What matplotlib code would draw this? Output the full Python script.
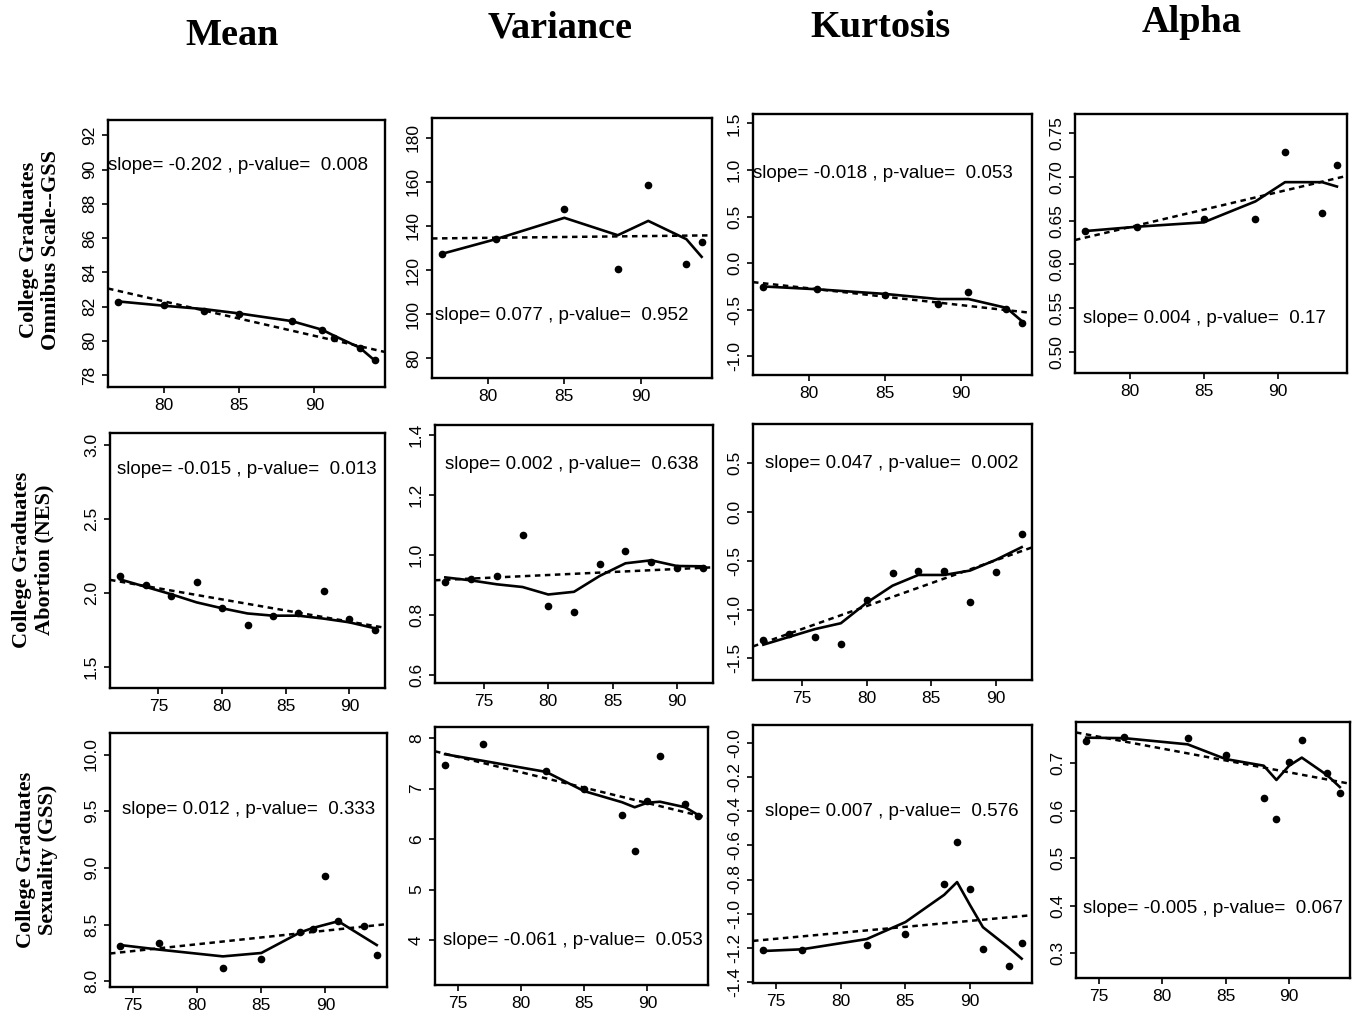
import numpy as np
import matplotlib
matplotlib.use("Agg")
import matplotlib.pyplot as plt

plt.rcParams['font.family'] = ['Liberation Sans', 'DejaVu Sans']
plt.rcParams['axes.unicode_minus'] = False

# ---- GSS omnibus scale (college graduates) ----
omni_mean_years = [77, 80, 82.7, 85, 88.5, 90.5, 91.3, 93, 94]
omni_mean = [82.25, 82.1, 81.75, 81.55, 81.15, 80.65, 80.15, 79.6, 78.85]
omni_mean_smooth = [82.3, 82.05, 81.85, 81.6, 81.15, 80.65, 80.3, 79.6, 78.85]

omni_years = [77, 80.5, 85, 88.5, 90.5, 93, 94]
omni_var = [127.4, 134.3, 147.5, 120.5, 158.8, 122.7, 132.7]
omni_var_smooth = [127.4, 134.0, 143.7, 135.8, 142.3, 134.0, 126.0]
omni_kurt = [-0.26, -0.28, -0.34, -0.44, -0.31, -0.49, -0.64]
omni_kurt_smooth = [-0.25, -0.28, -0.33, -0.385, -0.385, -0.48, -0.62]
omni_alpha = [0.638, 0.643, 0.652, 0.652, 0.728, 0.659, 0.714]
omni_alpha_smooth = [0.638, 0.643, 0.648, 0.672, 0.694, 0.694, 0.689]

omni_slope = [-0.202, 0.077, -0.018, 0.004]
omni_pvalue = [0.008, 0.952, 0.053, 0.17]
omni_fit_at_85 = [81.3, 135.0, -0.36, 0.6625]

# ---- NES abortion (college graduates) ----
nes_years = [72, 74, 76, 78, 80, 82, 84, 86, 88, 90, 92]
nes_mean = [2.11, 2.05, 1.98, 2.075, 1.90, 1.78, 1.84, 1.86, 2.01, 1.82, 1.745]
nes_mean_smooth = [2.09, 2.04, 1.99, 1.935, 1.895, 1.86, 1.845, 1.845, 1.825, 1.80, 1.76]
nes_var = [0.908, 0.918, 0.93, 1.067, 0.831, 0.811, 0.97, 1.013, 0.975, 0.957, 0.957]
nes_var_smooth = [0.925, 0.915, 0.902, 0.893, 0.868, 0.877, 0.93, 0.972, 0.982, 0.963, 0.962]
nes_kurt = [-1.31, -1.25, -1.28, -1.35, -0.90, -0.62, -0.60, -0.60, -0.92, -0.61, -0.23]
nes_kurt_smooth = [-1.36, -1.28, -1.20, -1.14, -0.93, -0.755, -0.645, -0.645, -0.60, -0.49, -0.36]

nes_slope = [-0.015, 0.002, 0.047]
nes_pvalue = [0.013, 0.638, 0.002]
nes_fit_at_82 = [1.925, 0.937, -0.87]

# ---- GSS sexuality (college graduates) ----
sex_years = [74, 77, 82, 85, 88, 89, 90, 91, 93, 94]
sex_mean = [8.31, 8.34, 8.12, 8.20, 8.435, 8.46, 8.93, 8.535, 8.49, 8.235]
sex_mean_smooth = [8.32, 8.28, 8.22, 8.25, 8.43, 8.47, 8.50, 8.53, 8.39, 8.32]
sex_var = [7.47, 7.89, 7.34, 7.0, 6.48, 5.77, 6.76, 7.65, 6.69, 6.46]
sex_var_smooth = [7.68, 7.55, 7.33, 6.95, 6.73, 6.63, 6.72, 6.74, 6.63, 6.48]
sex_kurt = [-1.214, -1.214, -1.185, -1.122, -0.828, -0.582, -0.858, -1.206, -1.306, -1.175]
sex_kurt_smooth = [-1.22, -1.21, -1.15, -1.05, -0.89, -0.815, -0.95, -1.08, -1.20, -1.265]
sex_alpha = [0.748, 0.756, 0.753, 0.718, 0.628, 0.582, 0.703, 0.749, 0.679, 0.637]
sex_alpha_smooth = [0.754, 0.753, 0.740, 0.709, 0.695, 0.665, 0.695, 0.712, 0.675, 0.650]

sex_slope = [0.012, -0.061, 0.007, -0.005]
sex_pvalue = [0.333, 0.053, 0.576, 0.067]
sex_fit_at_84 = [8.375, 7.08, -1.085, 0.711]

col_titles = ["Mean", "Variance", "Kurtosis", "Alpha"]
row_titles = ["College Graduates\nOmnibus Scale--GSS",
              "College Graduates\nAbortion (NES)",
              "College Graduates\nSexuality (GSS)"]

W, H = 1354, 1017
fig = plt.figure(figsize=(W / 100, H / 100), dpi=100)


def px_axes(l, t, r, b):
    return fig.add_axes([l / W, 1 - b / H, (r - l) / W, (b - t) / H])


def panel(box, x, y, smooth, slope, pval, xc, yc, xlim, ylim, xticks, yticks,
          yfmt, txt_pos):
    ax = px_axes(*box)
    xx = np.array(xlim)
    # regression line (dashed), smoother (solid), observations (dots)
    ax.plot(xx, yc + slope * (xx - xc), color='black', lw=1.8,
            linestyle=(0, (2.2, 1.8)))
    ax.plot(x, smooth, color='black', lw=1.9)
    ax.plot(x, y, 'o', color='black', ms=4.5)
    ax.set_xlim(xlim)
    ax.set_ylim(ylim)
    ax.set_xticks(xticks)
    ax.set_yticks(yticks)
    ax.set_yticklabels([yfmt.format(v) for v in yticks], rotation=90,
                       va='center')
    ax.tick_params(direction='out', length=4, width=1.2, labelsize=12.5, pad=4)
    for s in ax.spines.values():
        s.set_linewidth(1.7)
    ax.text(txt_pos[0], txt_pos[1], f"slope= {slope} , p-value=  {pval}",
            transform=ax.transAxes, fontsize=13.5, ha='left', va='center')
    return ax


gss_xlim = (76.32, 94.68)
nes_xlim = (71.2, 92.8)
sex_xlim = (73.2, 94.8)

# top row
panel((108, 120, 385, 387), omni_mean_years, omni_mean, omni_mean_smooth,
      omni_slope[0], omni_pvalue[0], 85, omni_fit_at_85[0], gss_xlim,
      (77.3, 92.9), [80, 85, 90], np.arange(78, 93, 2), "{:.0f}", (0.0, 0.83))
panel((432, 118, 712, 378), omni_years, omni_var, omni_var_smooth,
      omni_slope[1], omni_pvalue[1], 85, omni_fit_at_85[1], gss_xlim,
      (71, 189), [80, 85, 90], np.arange(80, 181, 20), "{:.0f}", (0.01, 0.24))
panel((753, 114, 1032, 375), omni_years, omni_kurt, omni_kurt_smooth,
      omni_slope[2], omni_pvalue[2], 85, omni_fit_at_85[2], gss_xlim,
      (-1.2, 1.6), [80, 85, 90], np.arange(-1.0, 1.51, 0.5), "{:.1f}", (0.0, 0.773))
panel((1075, 114, 1347, 373), omni_years, omni_alpha, omni_alpha_smooth,
      omni_slope[3], omni_pvalue[3], 85, omni_fit_at_85[3], gss_xlim,
      (0.4756, 0.772), [80, 85, 90], np.arange(0.50, 0.751, 0.05), "{:.2f}", (0.03, 0.21))

# middle row
panel((110, 433, 385, 688), nes_years, nes_mean, nes_mean_smooth,
      nes_slope[0], nes_pvalue[0], 82, nes_fit_at_82[0], nes_xlim,
      (1.356, 3.08), [75, 80, 85, 90], np.arange(1.5, 3.01, 0.5), "{:.1f}", (0.024, 0.855))
panel((435, 425, 713, 683), nes_years, nes_var, nes_var_smooth,
      nes_slope[1], nes_pvalue[1], 82, nes_fit_at_82[1], nes_xlim,
      (0.573, 1.433), [75, 80, 85, 90], np.arange(0.6, 1.41, 0.2), "{:.1f}", (0.036, 0.845))
panel((753, 424, 1032, 680), nes_years, nes_kurt, nes_kurt_smooth,
      nes_slope[2], nes_pvalue[2], 82, nes_fit_at_82[2], nes_xlim,
      (-1.722, 0.903), [75, 80, 85, 90], np.arange(-1.5, 0.51, 0.5), "{:.1f}", (0.043, 0.846))

# bottom row
panel((110, 733, 387, 987), sex_years, sex_mean, sex_mean_smooth,
      sex_slope[0], sex_pvalue[0], 84, sex_fit_at_84[0], sex_xlim,
      (7.95, 10.19), [75, 80, 85, 90], np.arange(8.0, 10.01, 0.5), "{:.1f}", (0.042, 0.697))
panel((435, 727, 708, 985), sex_years, sex_var, sex_var_smooth,
      sex_slope[1], sex_pvalue[1], 84, sex_fit_at_84[1], sex_xlim,
      (3.11, 8.22), [75, 80, 85, 90], np.arange(4, 9, 1), "{:.0f}", (0.03, 0.174))
panel((753, 725, 1032, 983), sex_years, sex_kurt, sex_kurt_smooth,
      sex_slope[2], sex_pvalue[2], 84, sex_fit_at_84[2], sex_xlim,
      (-1.408, 0.108), [75, 80, 85, 90], np.arange(-1.4, 0.01, 0.2), "{:.1f}", (0.043, 0.664))
panel((1076, 722, 1350, 978), sex_years, sex_alpha, sex_alpha_smooth,
      sex_slope[3], sex_pvalue[3], 84, sex_fit_at_84[3], sex_xlim,
      (0.248, 0.787), [75, 80, 85, 90], np.arange(0.3, 0.71, 0.1), "{:.1f}", (0.027, 0.272))

# column and row headings
serif = ['Liberation Serif', 'DejaVu Serif']
for title, xpx, ypx in zip(col_titles, [232, 560, 880, 1192], [45, 38, 37, 32]):
    fig.text(xpx / W, 1 - ypx / H, title, family=serif, fontweight='bold',
             fontsize=27.5, ha='center', va='baseline')
for title, xpx, ypx in zip(row_titles, [40, 33, 37], [250, 560, 860]):
    fig.text(xpx / W, 1 - ypx / H, title, family=serif, fontweight='bold',
             fontsize=16, rotation=90, ha='center', va='center',
             multialignment='center', linespacing=1.15)

fig.savefig("out.png", dpi=100)
